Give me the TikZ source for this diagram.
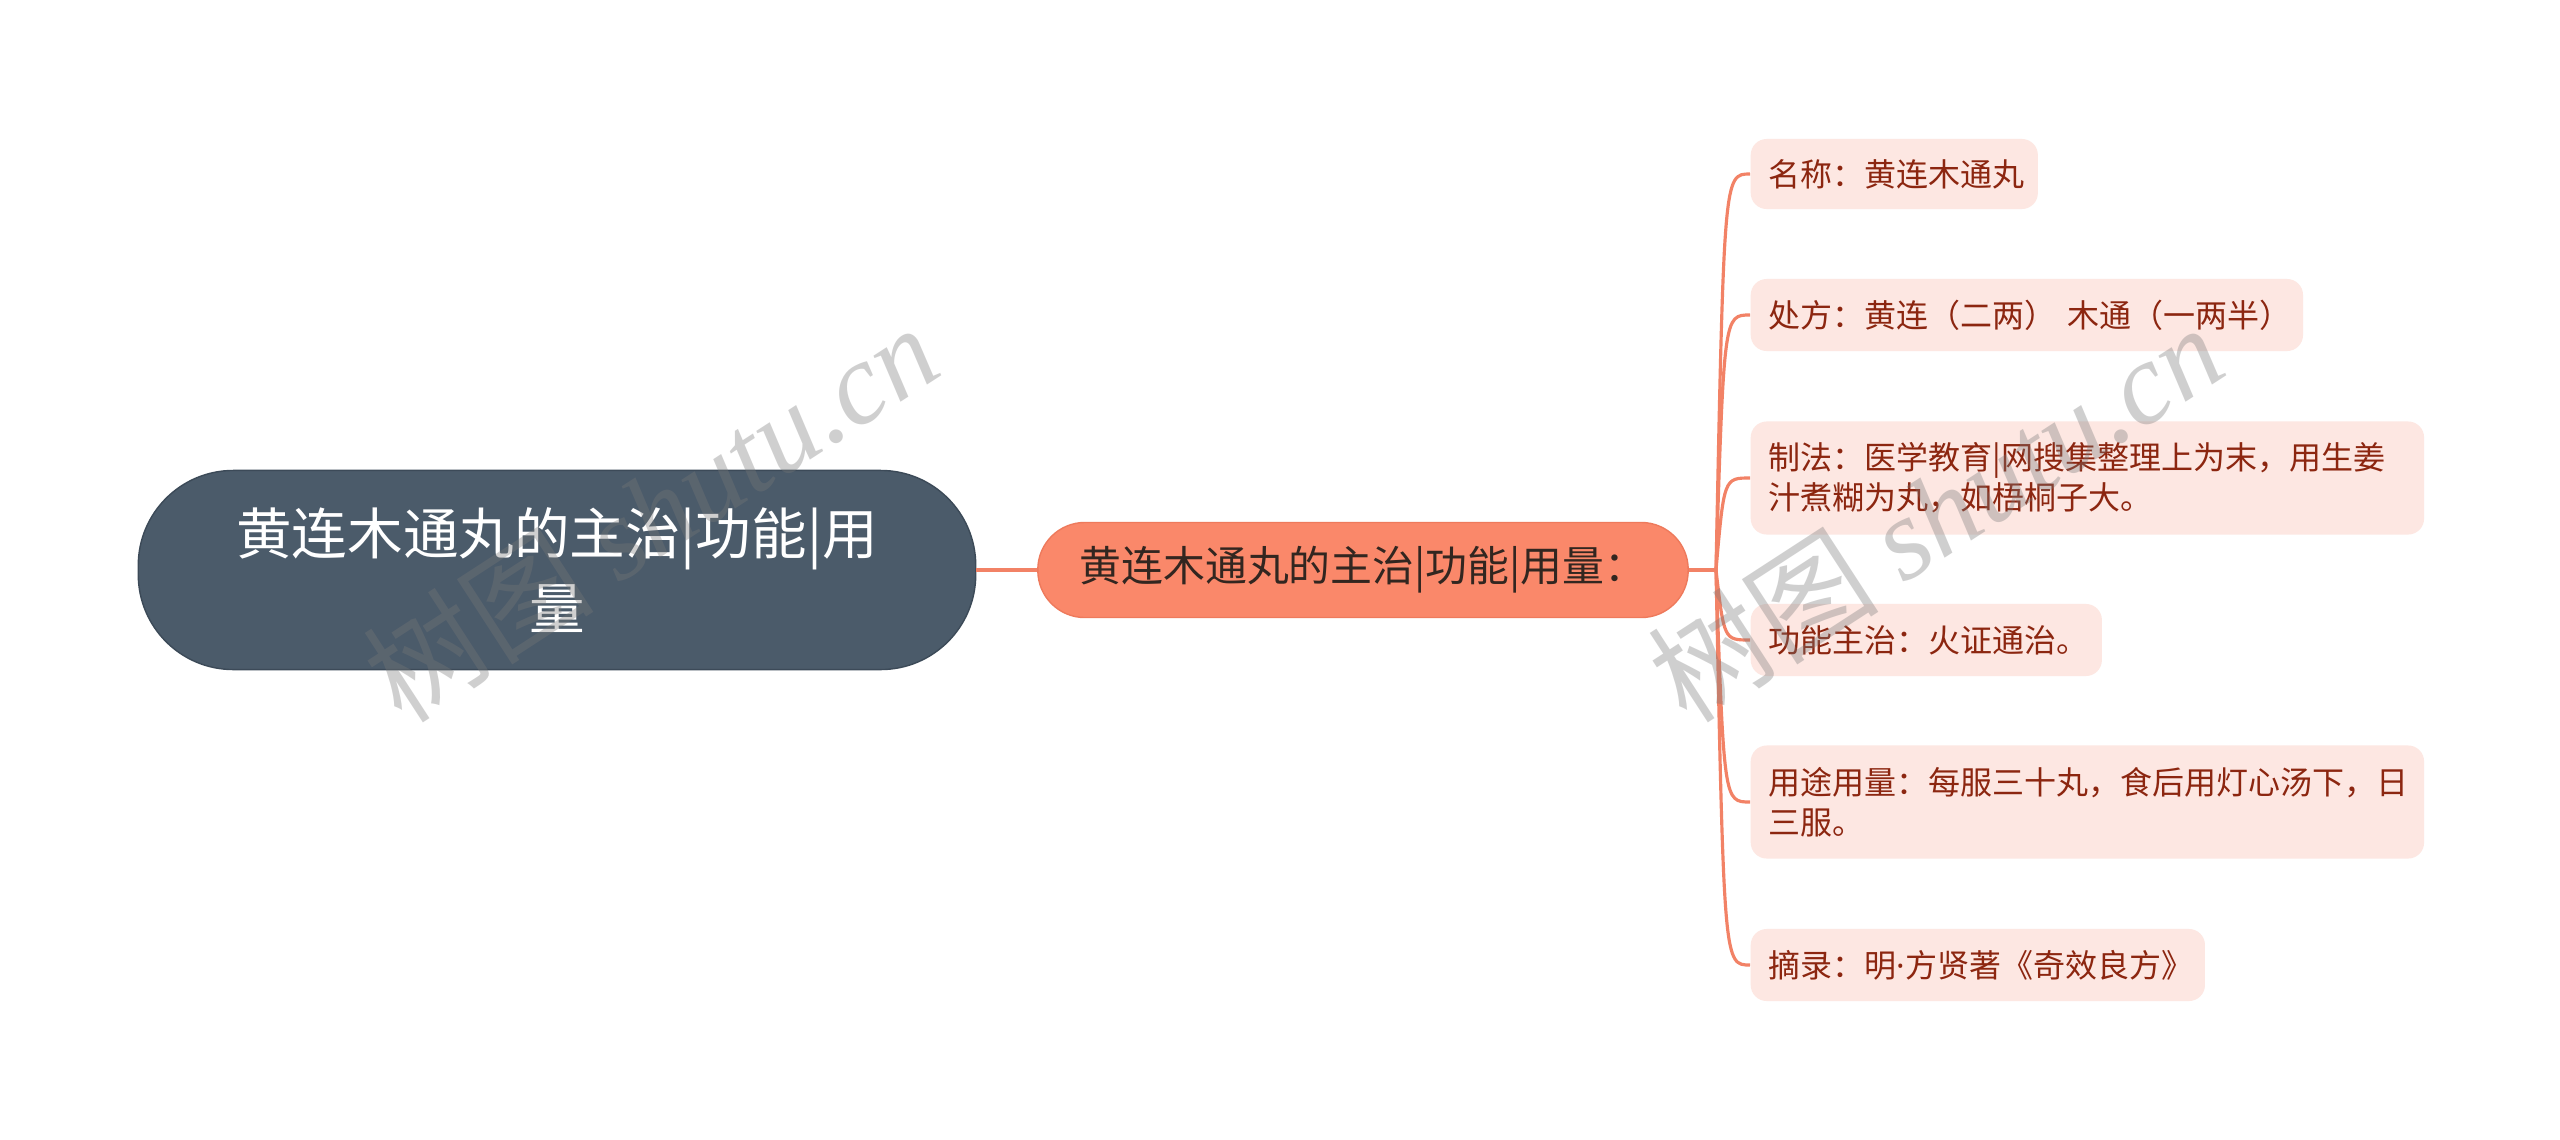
\documentclass[tikz,border=0pt]{standalone}
\usepackage{fontspec}
\setmainfont{Noto Sans CJK SC}
\newfontfamily\wmlatin{Liberation Serif}
\newfontfamily\latinsans{Noto Sans}
\usetikzlibrary{calc}
\definecolor{rootfill}{RGB}{75,91,106}
\definecolor{rootline}{RGB}{60,74,88}
\definecolor{midfill}{RGB}{250,136,106}
\definecolor{midline}{RGB}{238,122,92}
\definecolor{midtext}{RGB}{50,38,32}
\definecolor{leaffill}{RGB}{253,231,226}
\definecolor{leaftext}{RGB}{140,38,16}
\definecolor{connc}{RGB}{242,130,102}
\definecolor{wmc}{RGB}{120,120,120}
\tikzset{
  rootbox/.style={draw=rootline, line width=0.4pt, fill=rootfill, text=white,
    rounded corners=0.95cm, minimum width=8.37cm, minimum height=1.99cm,
    align=center, inner sep=0pt, font=\fontsize{15.8pt}{21.3pt}\selectfont},
  midbox/.style={draw=midline, line width=0.4pt, fill=midfill, text=midtext,
    rounded corners=0.47cm, minimum width=6.5cm, minimum height=0.95cm,
    inner sep=0pt, font=\fontsize{11.9pt}{14pt}\selectfont},
  leafbox/.style={fill=leaffill, text=leaftext, rounded corners=0.16cm,
    anchor=west, align=left, inner xsep=0.18cm, inner ysep=0pt,
    font=\fontsize{9.1pt}{11.4pt}\selectfont},
  conn/.style={draw=connc, line width=0.9pt},
  wm/.style={text=wmc, opacity=0.35, rotate=33, font=\fontsize{33pt}{33pt}\selectfont},
}
\begin{document}
\begin{tikzpicture}[x={(0.01cm,0)}, y={(0,-0.01cm)}]
\useasboundingbox (0,0) rectangle (2560,1139);
\fill[white] (0,0) rectangle (2560,1139);

\node[rootbox] (root) at (557,570) {黄连木通丸的主治|功能|用\\量};
\node[midbox] (mid) at (1363,570) {黄连木通丸的主治|功能|用量：};
\coordinate (J) at (1716,570);

\node[leafbox, text width=2.51cm, minimum height=0.70cm] (l1) at (1750,174) {名称：黄连木通丸};
\node[leafbox, text width=5.16cm, minimum height=0.72cm] (l2) at (1750,315) {\mbox{处方：黄连（二两） 木通（一两半）}};
\node[leafbox, text width=6.37cm, minimum height=1.13cm] (l3) at (1750,478) {制法：医学教育|网搜集整理上为末，用生姜\\汁煮糊为丸，如梧桐子大。};
\node[leafbox, text width=3.15cm, minimum height=0.72cm] (l4) at (1750,640) {功能主治：火证通治。};
\node[leafbox, text width=6.37cm, minimum height=1.13cm] (l5) at (1750,802) {用途用量：每服三十丸，食后用灯心汤下，日\\三服。};
\node[leafbox, text width=4.18cm, minimum height=0.72cm] (l6) at (1750,965) {摘录：明{\latinsans·}方贤著《奇效良方》};

\draw[conn, line width=1.1pt] (root.east) -- (mid.west);
\draw[conn] (mid.east) -- (J);
\foreach \n in {l1,l2,l3,l4,l5,l6}{
  \draw[conn] (J) .. controls ($(\n.west)+(-26,0)$) .. (\n.west);
}

\node[wm] (wm1) at (650,512) {树图 {\wmlatin\itshape shutu.cn}};
\node[wm] (wm2) at (1935,512) {树图 {\wmlatin\itshape shutu.cn}};
\end{tikzpicture}
\end{document}
